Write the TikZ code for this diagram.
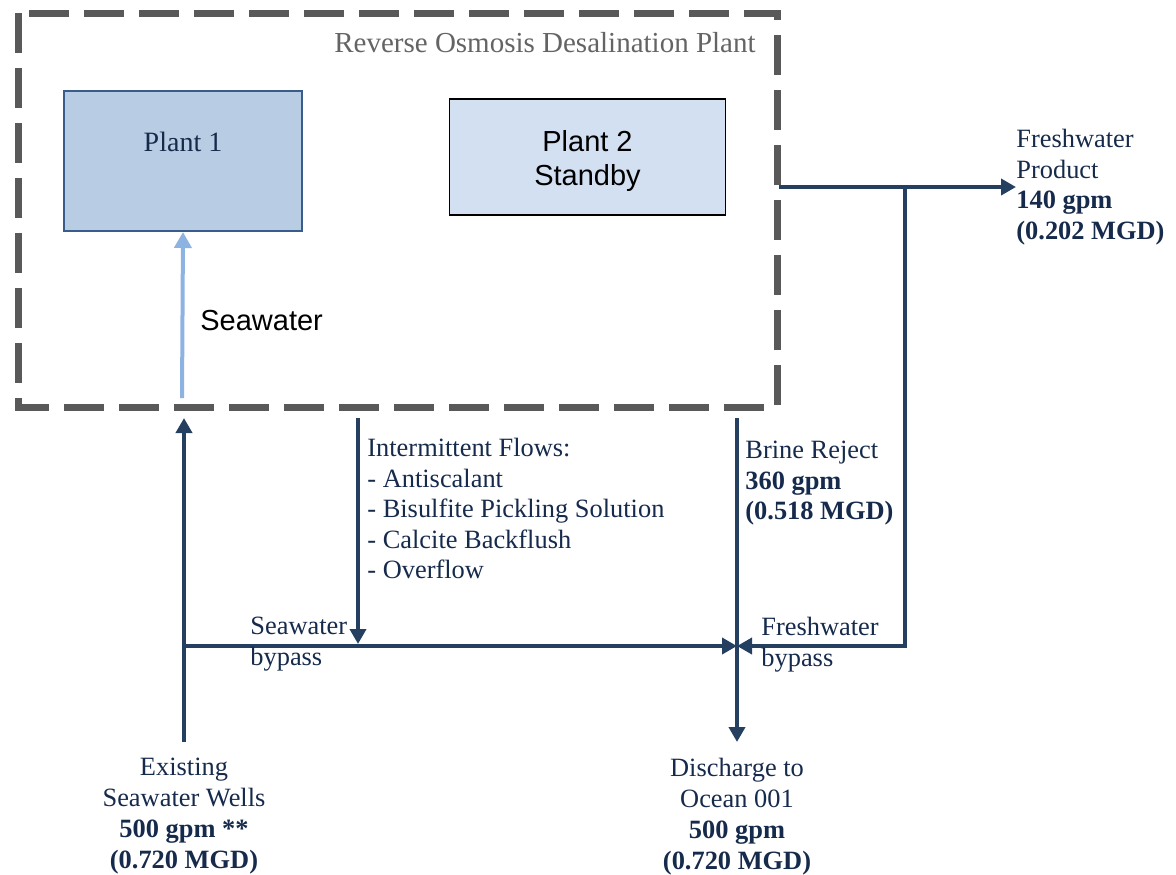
\documentclass[tikz,border=0pt]{standalone}
\usepackage{fontspec}
\setmainfont{Liberation Serif}
\setsansfont{Liberation Sans}
\usetikzlibrary{arrows.meta}

\definecolor{pipeblue}{RGB}{36,63,96}
\definecolor{txtnavy}{RGB}{22,42,76}
\definecolor{rogray}{RGB}{89,89,89}
\definecolor{rotext}{RGB}{100,100,100}
\definecolor{plantAfill}{RGB}{184,204,228}
\definecolor{plantAdraw}{RGB}{56,93,138}
\definecolor{plantBfill}{RGB}{211,224,242}
\definecolor{seablue}{RGB}{141,179,226}

\newcommand{\dropline}[1]{\raisebox{-2pt}[\height][\depth]{#1}}

\begin{document}
\begin{tikzpicture}[x=0.5pt, y=-0.5pt,
        pipe/.style={draw=pipeblue, line width=2pt},
        flow/.style={pipe, -{Triangle[length=7.5pt,width=8pt]}},
        txt/.style={inner sep=0pt, text=txtnavy, font=\fontsize{13.2}{15.25}\selectfont},
        endlbl/.style={txt, align=center, anchor=north, inner ysep=8pt, font=\fontsize{13.2}{15.5}\selectfont}]
        \useasboundingbox (0,0) rectangle (1176,874);

        % plant boundary
        \draw[rogray, line width=3.5pt, dash pattern=on 20pt off 7.5pt] (18,13) rectangle (777,407);
        \node[anchor=east, inner sep=0pt, text=rotext, font=\fontsize{14.5}{17}\selectfont] (roLbl) at (756,43) {Reverse Osmosis Desalination Plant};

        \node[draw=plantAdraw, line width=1pt, fill=plantAfill, minimum width=119pt, minimum height=70pt,
            align=center, text=txtnavy, font=\fontsize{14}{15}\selectfont] (plantA) at (183,161) {Plant 1\\ \strut};
        \node[draw=black, line width=0.6pt, fill=plantBfill, minimum width=138pt, minimum height=58pt,
            align=center, font=\sffamily\fontsize{14.5}{17}\selectfont] (plantB) at (587.5,157) {\dropline{Plant 2}\\\dropline{Standby}};

        \draw[seablue, line width=2pt, -{Triangle[length=8pt,width=8.5pt]}] (182,398) -- (plantA.south);
        \node[anchor=west, inner sep=0pt, font=\sffamily\fontsize{14.5}{17}\selectfont] (seaLbl) at (200,321) {Seawater};

        % junctions
        \coordinate (swIn) at (184,418);
        \coordinate (swJ) at (184,646);
        \coordinate (mixJ) at (737,646);
        \coordinate (intTop) at (358,418);
        \coordinate (intJ) at (358,646);
        \coordinate (brTop) at (737,418);
        \coordinate (prodOut) at (779,187);
        \coordinate (prodJ) at (905,187);

        \node[endlbl] (wells) at (184,742) {Existing\\Seawater Wells\\\textbf{500 gpm **}\\\textbf{(0.720 MGD)}};
        \node[endlbl] (ocean) at (737,742) {Discharge to\\Ocean 001\\\textbf{500 gpm}\\\textbf{(0.720 MGD)}};
        \node[txt, align=left, anchor=west] (fresh) at (1016,187) {Freshwater\\Product\\\textbf{140 gpm}\\\textbf{(0.202 MGD)}};

        \draw[flow] (wells.north) -- (swIn);
        \draw[flow] (swJ) -- (mixJ);
        \draw[flow, shorten >=1pt] (intTop) -- (intJ);
        \draw[flow] (brTop) -- (ocean.north);
        \draw[flow] (prodOut) -- (fresh.west);
        \draw[flow] (prodJ) |- (mixJ);

        \node[txt, align=left, anchor=north west] (intLbl) at (367,438) {Intermittent Flows:\\- Antiscalant\\- Bisulfite Pickling Solution\\- Calcite Backflush\\- Overflow};
        \node[txt, align=left, anchor=north west] (brLbl) at (745,441) {Brine Reject\\\textbf{360 gpm}\\\textbf{(0.518 MGD)}};
        \node[txt, align=left, anchor=north west] (swBy) at (250,617) {Seawater\\bypass};
        \node[txt, align=left, anchor=north west] (fwBy) at (761,617) {Freshwater\\bypass};
    \end{tikzpicture}
\end{document}
